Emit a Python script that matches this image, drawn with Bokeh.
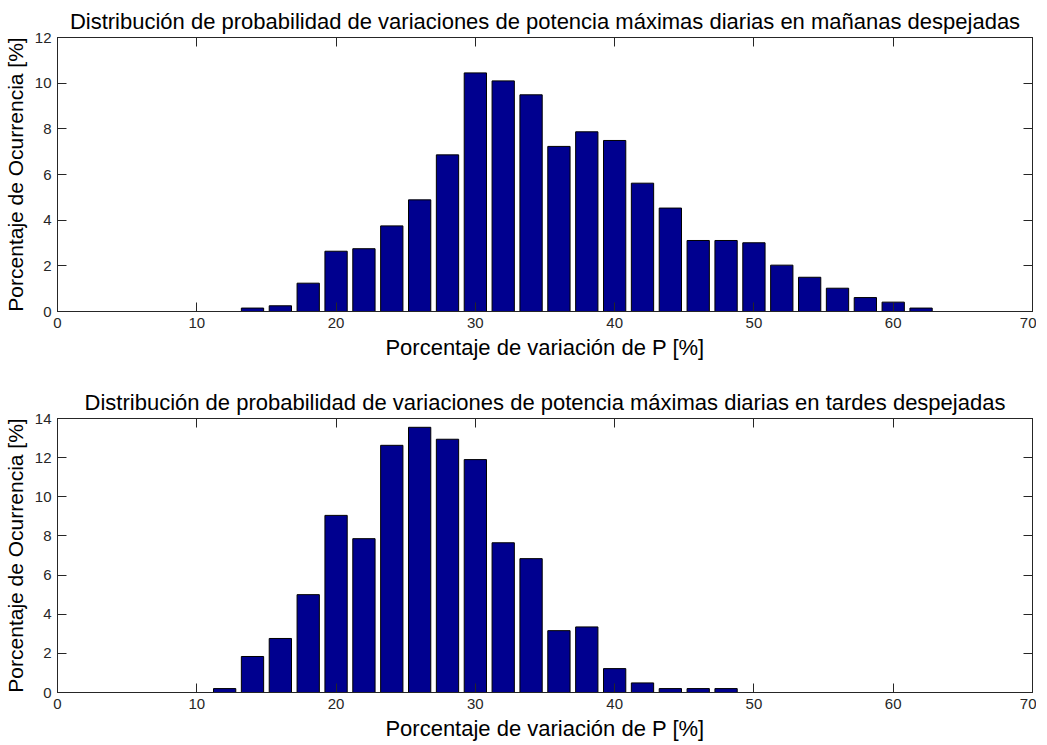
from bokeh.plotting import figure
from bokeh.layouts import column
from bokeh.models import LinearAxis, Range1d, FixedTicker, CustomJSTickFormatter
from bokeh.embed import file_html
from bokeh.resources import INLINE

# Data
x_man = [14, 16, 18, 20, 22, 24, 26, 28, 30, 32, 34, 36, 38, 40, 42, 44, 46, 48, 50, 52, 54, 56, 58, 60, 62]
y_man = [0.15, 0.25, 1.24, 2.64, 2.75, 3.75, 4.89, 6.86, 10.45, 10.1, 9.49, 7.23, 7.87, 7.49,
         5.62, 4.53, 3.11, 3.11, 3.01, 2.03, 1.50, 1.02, 0.61, 0.41, 0.15]
x_tar = [12, 14, 16, 18, 20, 22, 24, 26, 28, 30, 32, 34, 36, 38, 40, 42, 44, 46, 48]
y_tar = [0.2, 1.84, 2.76, 5.0, 9.05, 7.86, 12.63, 13.55, 12.94, 11.9, 7.65, 6.84, 3.16, 3.35,
         1.22, 0.49, 0.2, 0.2, 0.2]

title_man = "Distribución de probabilidad de variaciones de potencia máximas diarias en mañanas despejadas"
title_tar = "Distribución de probabilidad de variaciones de potencia máximas diarias en tardes despejadas"
xlabel = "Porcentaje de variación de P [%]"
ylabel = "Porcentaje de Ocurrencia [%]"
x_ticks = [0, 10, 20, 30, 40, 50, 60, 70]

FONT = "Liberation Sans"
BAR = "#00008F"


def style_axis(ax, show_labels=True):
    ax.major_tick_in = 9
    ax.major_tick_out = 0
    ax.minor_tick_line_color = None
    ax.axis_line_color = "#262626"
    ax.major_tick_line_color = "#262626"
    ax.major_label_text_font = FONT
    ax.major_label_text_font_size = "15px"
    ax.major_label_text_color = "#262626"
    ax.major_label_standoff = 6
    ax.axis_label_text_font = FONT
    ax.axis_label_text_font_size = "22px"
    ax.axis_label_text_font_style = "normal"
    ax.axis_label_text_color = "black"
    if not show_labels:
        ax.formatter = CustomJSTickFormatter(code="return ''")
        ax.major_label_standoff = 0
        ax.major_label_text_font_size = "2px"


def make(xs, ys, ymax, title, top_border, bottom_border):
    p = figure(frame_width=975, frame_height=274, output_backend="svg", toolbar_location=None,
               x_range=Range1d(0, 70), y_range=Range1d(0, ymax),
               min_border_left=52, min_border_right=4,
               min_border_top=top_border, min_border_bottom=bottom_border,
               x_axis_label=xlabel, y_axis_label=ylabel)
    p.title.text = title
    p.title.text_font = FONT
    p.title.text_font_size = "22px"
    p.title.text_font_style = "normal"
    p.title.text_color = "black"
    p.title.align = "center"
    p.title.standoff = 8
    p.vbar(x=xs, top=ys, width=1.6, bottom=0, fill_color=BAR, line_color="black", line_width=1)
    p.xgrid.visible = False
    p.ygrid.visible = False
    p.outline_line_color = "#262626"
    yt = FixedTicker(ticks=list(range(0, ymax + 1, 2)))
    xt = FixedTicker(ticks=x_ticks)
    p.xaxis.ticker = xt
    p.yaxis.ticker = yt
    for ax in p.xaxis + p.yaxis:
        style_axis(ax)
    p.xaxis.axis_label_standoff = 4
    p.yaxis.axis_label_standoff = 5
    p.yaxis.axis_label_text_font_size = "21px"
    top = LinearAxis(ticker=xt)
    right = LinearAxis(ticker=yt)
    style_axis(top, False)
    style_axis(right, False)
    p.add_layout(top, "above")
    p.add_layout(right, "right")
    p.background_fill_color = "white"
    p.border_fill_color = "white"
    return p


p1 = make(x_man, y_man, 12, title_man, 37, 50)
p2 = make(x_tar, y_tar, 14, title_tar, 56, 40)
layout = column(p1, p2, spacing=0)

open("out.html", "w").write(file_html(layout, INLINE))
